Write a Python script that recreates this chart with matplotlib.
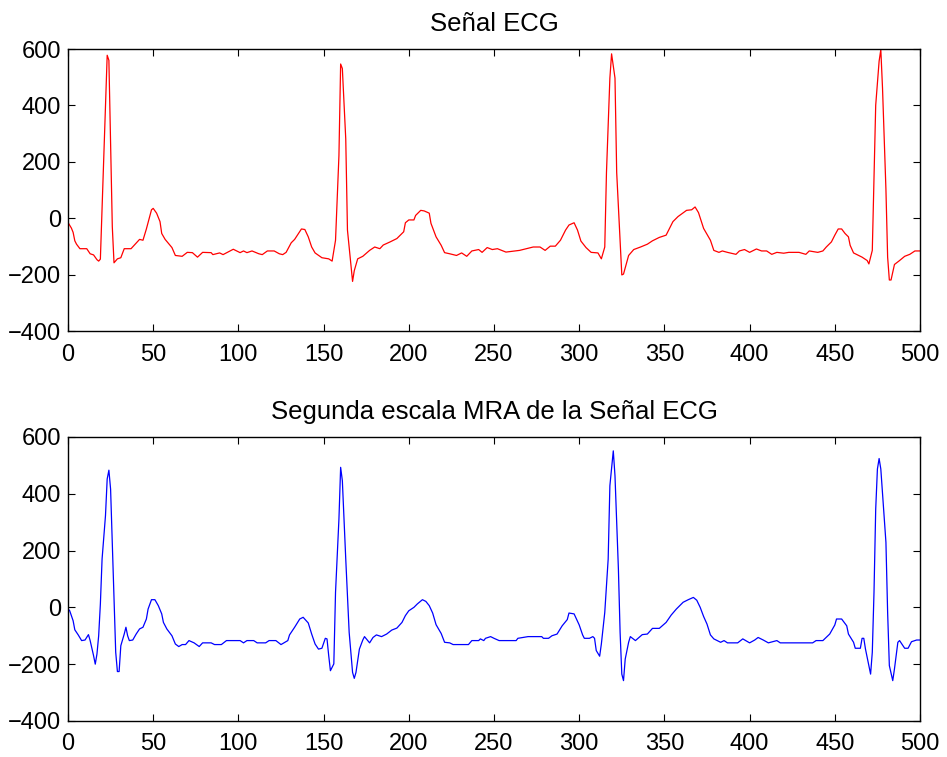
import matplotlib
matplotlib.use("Agg")
import matplotlib.pyplot as plt

plt.rcParams['font.family'] = ['Liberation Sans', 'DejaVu Sans']

# Original ECG signal (sample index, amplitude)
ecg_x = [0, 2, 3, 4, 5, 7, 11, 13, 15, 17, 18, 19, 23, 24, 26, 27, 29, 31, 33, 37,
         42, 44, 46, 49, 50, 52, 54, 55, 57, 61, 63, 67, 70, 73, 76, 79, 84, 85, 89, 91,
         97, 101, 103, 105, 108, 112, 114, 117, 121, 124, 126, 128, 131, 133, 137, 139,
         141, 143, 145, 149, 153, 155, 157, 159, 160, 161, 163, 164, 167, 168, 170, 173,
         177, 180, 183, 185, 189, 193, 195, 197, 198, 200, 203, 204, 207, 209, 212, 213,
         216, 219, 221, 224, 228, 231, 234, 237, 241, 243, 246, 249, 252, 257, 265, 273,
         277, 280, 283, 286, 289, 292, 294, 297, 299, 301, 304, 307, 311, 313, 315, 316,
         318, 319, 321, 322, 324, 325, 326, 329, 332, 336, 340, 343, 347, 351, 355, 358,
         363, 366, 368, 370, 373, 377, 379, 382, 384, 387, 392, 394, 397, 400, 404, 407,
         410, 413, 416, 420, 423, 429, 433, 435, 440, 443, 445, 448, 450, 452, 454, 456,
         458, 459, 461, 466, 469, 470, 472, 474, 476, 477, 478, 480, 481, 482, 483, 485,
         488, 491, 494, 497, 500]
ecg_y = [-15, -35, -50, -80, -92, -108, -108, -126, -130, -147, -152, -145, 578, 560, -30,
         -158, -144, -140, -108, -108, -75, -78, -38, 30, 35, 18, -12, -54, -75, -104,
         -132, -135, -121, -122, -138, -121, -122, -129, -123, -129, -110, -122, -116,
         -122, -116, -126, -129, -116, -116, -126, -129, -121, -87, -75, -38, -40, -66,
         -102, -123, -140, -144, -152, -78, 222, 547, 531, 281, -42, -224, -186, -144,
         -135, -114, -102, -108, -95, -84, -72, -60, -48, -16, -6, -6, 10, 28, 26, 18,
         -18, -66, -96, -122, -126, -132, -123, -135, -116, -111, -121, -104, -111, -108,
         -120, -114, -102, -102, -114, -99, -99, -78, -42, -24, -16, -42, -81, -104,
         -121, -123, -144, -102, 162, 497, 583, 497, 162, -78, -201, -198, -132, -111,
         -102, -92, -80, -68, -60, -12, 6, 28, 30, 40, 20, -36, -78, -114, -121, -116,
         -121, -128, -116, -111, -121, -109, -116, -116, -128, -121, -124, -121, -121,
         -128, -116, -121, -116, -102, -84, -60, -38, -38, -54, -66, -96, -123, -138,
         -150, -162, -114, 401, 557, 598, 461, 102, -138, -219, -219, -164, -150, -135,
         -128, -116, -116]

# Second-scale MRA approximation of the ECG signal
mra_x = [0, 1, 3, 4, 6, 8, 10, 12, 13, 15, 16, 17, 18, 19, 20, 22, 23, 24, 25, 27, 28,
         29, 30, 31, 33, 34, 35, 36, 38, 40, 42, 44, 46, 47, 49, 51, 53, 55, 56, 58, 61,
         63, 65, 67, 69, 71, 74, 77, 79, 84, 86, 90, 93, 101, 103, 105, 109, 111, 116,
         118, 122, 125, 129, 130, 133, 136, 138, 141, 143, 145, 147, 149, 151, 152, 153,
         154, 156, 157, 159, 160, 161, 163, 165, 167, 168, 169, 171, 173, 174, 177, 179,
         181, 184, 187, 190, 193, 196, 198, 200, 203, 205, 208, 210, 212, 214, 216, 219,
         221, 224, 226, 235, 237, 241, 242, 244, 245, 248, 250, 253, 263, 264, 270, 278,
         279, 282, 284, 287, 290, 293, 294, 297, 300, 302, 303, 306, 308, 309, 310, 312,
         313, 315, 317, 318, 320, 321, 323, 324, 325, 326, 327, 329, 330, 333, 337, 340,
         343, 347, 351, 354, 357, 361, 364, 367, 369, 371, 373, 375, 377, 379, 383, 385,
         387, 393, 396, 400, 403, 405, 408, 411, 416, 418, 437, 439, 443, 447, 450, 451,
         454, 457, 458, 461, 462, 465, 466, 467, 468, 470, 471, 472, 473, 474, 475, 476,
         477, 480, 481, 482, 484, 485, 487, 488, 491, 493, 495, 498, 500]
mra_y = [-5, -12, -47, -79, -97, -117, -115, -96, -117, -170, -200, -164, -100, 12, 170,
         323, 452, 483, 416, 29, -158, -226, -226, -135, -94, -70, -100, -117, -115, -94,
         -76, -70, -41, -6, 27, 27, 6, -23, -53, -76, -100, -129, -138, -131, -131, -117,
         -125, -138, -125, -125, -131, -131, -117, -117, -125, -117, -117, -125, -125,
         -117, -117, -131, -117, -97, -70, -41, -35, -55, -94, -129, -147, -144, -109,
         -111, -170, -223, -199, 53, 311, 493, 446, 170, -88, -229, -250, -229, -147,
         -115, -103, -125, -106, -97, -103, -94, -80, -73, -53, -29, -12, 0, 12, 27, 21,
         6, -20, -61, -92, -123, -125, -131, -131, -117, -117, -111, -117, -109, -103,
         -109, -117, -117, -109, -103, -103, -109, -109, -100, -94, -65, -43, -20, -23,
         -62, -97, -109, -109, -103, -109, -152, -172, -129, -18, 170, 428, 551, 463, 135,
         -88, -235, -258, -182, -123, -103, -117, -96, -94, -74, -74, -53, -27, -6, 18,
         27, 35, 25, 0, -32, -59, -97, -111, -123, -117, -125, -125, -111, -125, -115,
         -106, -115, -125, -117, -125, -125, -117, -117, -94, -62, -41, -41, -65, -94,
         -123, -144, -144, -109, -109, -147, -205, -235, -158, 53, 346, 487, 524, 487,
         229, -18, -205, -258, -217, -123, -117, -144, -144, -121, -115, -115]

titles = ['Señal ECG', 'Segunda escala MRA de la Señal ECG']
x_ticks = [0, 50, 100, 150, 200, 250, 300, 350, 400, 450, 500]
y_ticks = [-400, -200, 0, 200, 400, 600]

fig = plt.figure(figsize=(9.47, 7.57), dpi=100)
ax_top = fig.add_axes([0.0718, 0.5627, 0.8997, 0.3725])
ax_bot = fig.add_axes([0.0718, 0.0476, 0.8997, 0.3752])

ax_top.plot(ecg_x, ecg_y, color=(1, 0, 0), lw=0.9)
ax_bot.plot(mra_x, mra_y, color=(0, 0, 1), lw=0.9)

for ax, title in zip((ax_top, ax_bot), titles):
    ax.set_xlim(0, 500)
    ax.set_ylim(-400, 600)
    ax.set_xticks(x_ticks)
    ax.set_yticks(y_ticks)
    ax.set_title(title, fontsize=18.5, pad=13)
    ax.tick_params(direction='in', length=5, width=0.8, top=True, right=True,
                   labelsize=17)
    ax.tick_params(axis='x', pad=9)
    ax.tick_params(axis='y', pad=5)
    for sp in ax.spines.values():
        sp.set_linewidth(1.0)

fig.savefig('out.png', dpi=100)
